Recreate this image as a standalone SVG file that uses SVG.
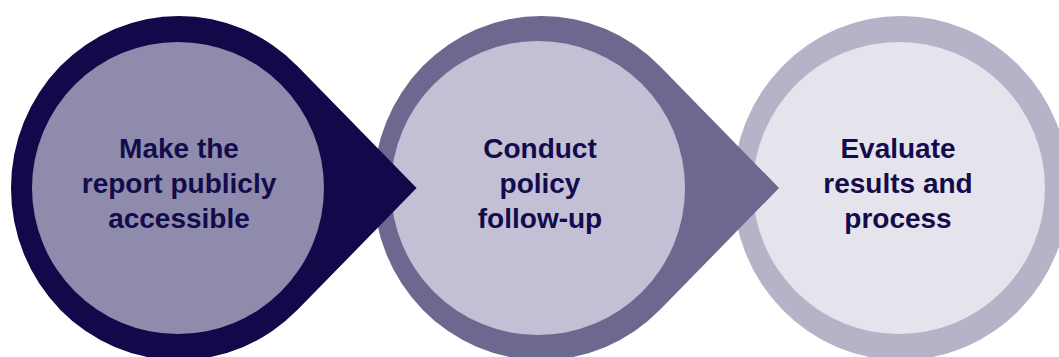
<svg xmlns="http://www.w3.org/2000/svg" width="1059" height="357" viewBox="0 0 1059 357">
<style>
text{font-family:"Liberation Sans",Arial,sans-serif;font-weight:bold;font-size:28px;fill:#130b4b;text-anchor:middle}
</style>
<rect width="1059" height="357" fill="#ffffff"/>
<g id="node3">
<ellipse cx="901" cy="188" rx="168" ry="172" fill="#b6b2c8"/>
<circle cx="899" cy="188" r="146" fill="#e5e4ec"/>
<text x="898" y="158">Evaluate</text>
<text x="898" y="193">results and</text>
<text x="898" y="228">process</text>
</g>
<g id="node2">
<path d="M779,188 L660.2,309.6 A168,172 0 1 1 660.2,66.4 Z" fill="#6d6890"/>
<circle cx="538" cy="188" r="147" fill="#c3c0d5"/>
<text x="540" y="158">Conduct</text>
<text x="540" y="193">policy</text>
<text x="540" y="228">follow-up</text>
</g>
<g id="node1">
<path d="M416.6,188 L297.8,309.6 A168,172 0 1 1 297.8,66.4 Z" fill="#12084a"/>
<circle cx="178" cy="188" r="146" fill="#8f8bac"/>
<text x="179" y="158">Make the</text>
<text x="179" y="193">report publicly</text>
<text x="179" y="228">accessible</text>
</g>
<g id="connectors"/>
</svg>
